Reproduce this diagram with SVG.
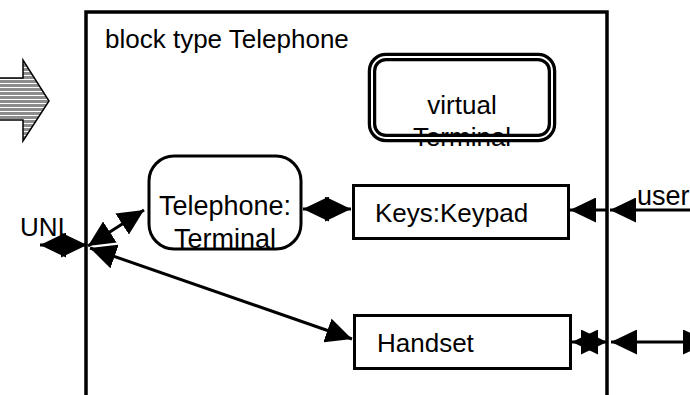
<svg xmlns="http://www.w3.org/2000/svg" width="690" height="395" viewBox="0 0 690 395">
  <style>
    .lbl { font-family: "Liberation Sans", Arial, sans-serif; font-size: 26px; fill: #000; }
    .big { font-size: 27px; }
    .box { fill: #fff; stroke: #000; stroke-width: 3; }
    .conn { fill: none; stroke: #000; stroke-width: 3; }
    .both { marker-start: url(#head); marker-end: url(#head); }
    .one { marker-end: url(#head); }
  </style>
  <defs>
    <marker id="head" markerUnits="userSpaceOnUse" markerWidth="26" markerHeight="25" viewBox="0 0 26 25" refX="26" refY="12.5" orient="auto-start-reverse">
      <path d="M0,0 L26,12.5 L0,25 Z" fill="#000"/>
    </marker>
    <pattern id="stripes" patternUnits="userSpaceOnUse" width="8" height="4">
      <rect width="8" height="4" fill="#fff"/>
      <rect width="8" height="3" fill="#8c8c8c"/>
    </pattern>
  </defs>

  <rect width="690" height="395" fill="#fff"/>

  <!-- entry arrow -->
  <g id="entry-arrow">
    <polygon points="-2,78 23,78 23,60 49,101 23,141 23,120 -2,120" fill="url(#stripes)" stroke="#000" stroke-width="1.5"/>
  </g>

  <!-- enclosing block -->
  <g id="block-telephone">
    <path d="M86,420 V12 H607 V420" fill="none" stroke="#000" stroke-width="3.5"/>
    <text class="lbl" x="105" y="48">block type Telephone</text>
  </g>

  <g id="virtual-terminal">
    <text class="lbl" x="462" y="114" text-anchor="middle">virtual</text>
    <text class="lbl" x="462" y="146" text-anchor="middle">Terminal</text>
    <rect x="372" y="57" width="180" height="81" rx="14" fill="none" stroke="#000" stroke-width="8.5"/>
    <rect x="372" y="57" width="180" height="81" rx="14" fill="none" stroke="#fff" stroke-width="2"/>
  </g>

  <g id="telephone-terminal">
    <rect class="box" x="149" y="156" width="152" height="93" rx="25" stroke-width="2.5"/>
    <text class="lbl big" x="225" y="215" text-anchor="middle">Telephone:</text>
    <text class="lbl big" x="225" y="248" text-anchor="middle">Terminal</text>
  </g>

  <g id="keys-keypad">
    <rect class="box" x="353.5" y="185.5" width="215" height="53"/>
    <text class="lbl" x="375" y="222">Keys:Keypad</text>
  </g>

  <g id="handset">
    <rect class="box" x="354.5" y="315.5" width="216" height="53"/>
    <text class="lbl" x="377" y="352">Handset</text>
  </g>

  <g id="connectors">
    <line class="conn both" x1="303" y1="209" x2="351" y2="209"/>
    <line class="conn both" x1="88" y1="246" x2="144" y2="210"/>
    <line class="conn both" x1="90" y1="248" x2="352" y2="339"/>
    <line class="conn both" x1="40" y1="245" x2="87" y2="245"/>
    <line class="conn one" x1="608" y1="210" x2="570" y2="210"/>
    <line class="conn one" x1="700" y1="210" x2="610" y2="210"/>
    <line class="conn both" x1="572" y1="342" x2="607" y2="342"/>
    <line class="conn both" x1="611" y1="342" x2="709" y2="342"/>
    <text class="lbl" x="20" y="236">UNI</text>
    <text class="lbl big" x="637" y="205">user</text>
  </g>
</svg>
